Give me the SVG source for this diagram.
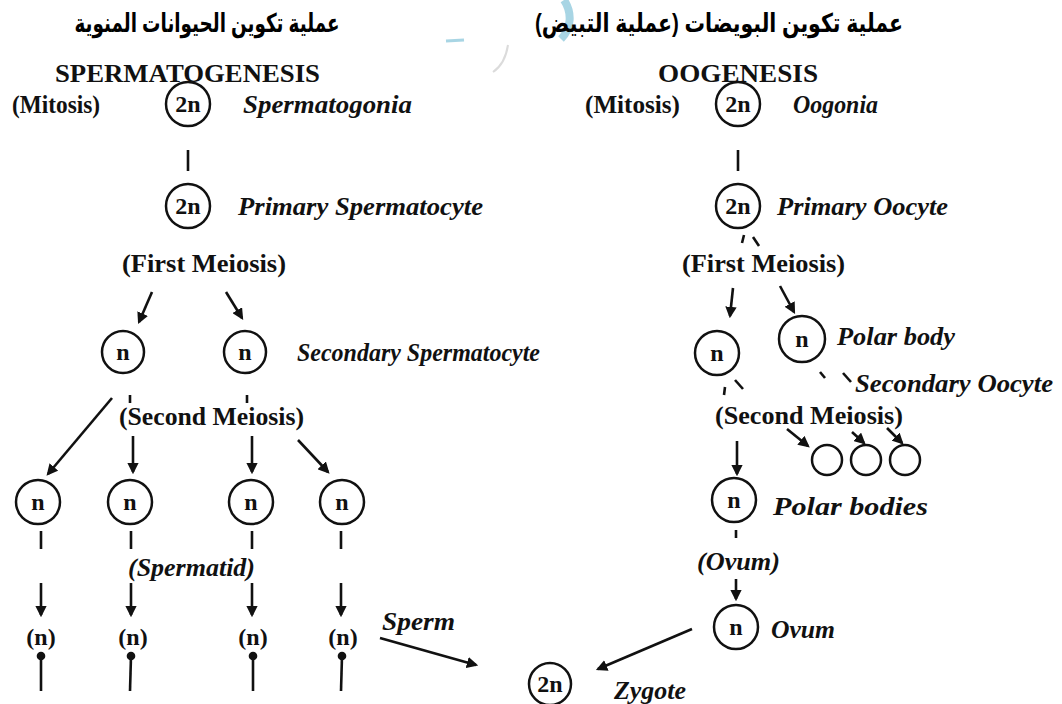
<svg xmlns="http://www.w3.org/2000/svg" width="1062" height="704" viewBox="0 0 1062 704">
<style>
.ar{font-family:"Liberation Sans","DejaVu Sans",sans-serif;font-weight:bold;font-size:26px;fill:#000}
.hd{font-family:"Liberation Serif",serif;font-weight:bold;font-size:25px;fill:#111}
.lb{font-family:"Liberation Serif",serif;font-weight:bold;font-size:25px;fill:#111}
.it{font-family:"Liberation Serif",serif;font-weight:bold;font-style:italic;font-size:25px;fill:#111}
.cl{font-family:"Liberation Serif",serif;font-weight:bold;font-size:24px;fill:#111;text-anchor:middle}
.c{fill:none;stroke:#111;stroke-width:2.5}
.ln{fill:none;stroke:#111;stroke-width:2.6}
.ar2{fill:none;stroke:#111;stroke-width:2.6;marker-end:url(#ah)}
</style>
<defs>
<marker id="ah" viewBox="0 0 10 10" refX="8" refY="5" markerWidth="4.4" markerHeight="4.4" orient="auto" markerUnits="strokeWidth"><path d="M0,0 L10,5 L0,10 z" fill="#111"/></marker>
</defs>
<rect width="1062" height="704" fill="#fff"/>
<g id="watermark" opacity="0.75">
<path d="M564,0 C572,12 572,28 561,39" fill="none" stroke="#8cc8dc" stroke-width="8"/>
<path d="M446,41 L464,40" fill="none" stroke="#8cc8dc" stroke-width="3"/>
<path d="M508,45 C506,58 502,66 493,72" fill="none" stroke="#cfcfcf" stroke-width="2"/>
</g>
<g id="titles">
<text class="ar" x="207" y="32" text-anchor="middle" textLength="265" lengthAdjust="spacingAndGlyphs">عملية تكوين الحيوانات المنوية</text>
<text class="ar" x="719" y="32" text-anchor="middle" textLength="368" lengthAdjust="spacingAndGlyphs">عملية تكوين البويضات (عملية التبيض)</text>
<text class="hd" x="55" y="82" textLength="265" lengthAdjust="spacingAndGlyphs">SPERMATOGENESIS</text>
<text class="hd" x="658" y="82" textLength="160" lengthAdjust="spacingAndGlyphs">OOGENESIS</text>
</g>
<g id="connectors">
<line class="ln" x1="188" y1="150" x2="188" y2="171"/>
<line class="ar2" x1="152" y1="292" x2="139" y2="322"/>
<line class="ar2" x1="226" y1="292" x2="242" y2="318"/>
<line class="ln" x1="130" y1="395" x2="130" y2="403"/>
<line class="ln" x1="247" y1="395" x2="247" y2="403"/>
<line class="ar2" x1="112" y1="398" x2="48" y2="474"/>
<line class="ar2" x1="133" y1="436" x2="133" y2="472"/>
<line class="ar2" x1="252" y1="436" x2="252" y2="472"/>
<line class="ar2" x1="298" y1="440" x2="328" y2="472"/>
<line class="ln" x1="41" y1="531" x2="41" y2="549"/>
<line class="ln" x1="131" y1="531" x2="131" y2="549"/>
<line class="ln" x1="252" y1="531" x2="252" y2="549"/>
<line class="ln" x1="341" y1="531" x2="341" y2="549"/>
<line class="ar2" x1="41" y1="583" x2="41" y2="615"/>
<line class="ar2" x1="131" y1="583" x2="131" y2="615"/>
<line class="ar2" x1="252" y1="583" x2="252" y2="615"/>
<line class="ar2" x1="341" y1="583" x2="341" y2="615"/>
<line class="ar2" x1="380" y1="638" x2="476" y2="665"/>
<line class="ln" x1="738" y1="150" x2="738" y2="171"/>
<line class="ln" x1="744" y1="235" x2="742" y2="243"/>
<line class="ln" x1="753" y1="237" x2="759" y2="246"/>
<line class="ar2" x1="733" y1="288" x2="730" y2="316"/>
<line class="ar2" x1="780" y1="286" x2="794" y2="312"/>
<line class="ln" x1="725" y1="387" x2="724" y2="395"/>
<line class="ln" x1="735" y1="380" x2="743" y2="389"/>
<line class="ln" x1="820" y1="372" x2="825" y2="378"/>
<line class="ln" x1="843" y1="373" x2="851" y2="382"/>
<line class="ar2" x1="787" y1="429" x2="808" y2="446"/>
<line class="ar2" x1="852" y1="432" x2="864" y2="443"/>
<line class="ar2" x1="887" y1="428" x2="902" y2="443"/>
<line class="ar2" x1="737" y1="441" x2="737" y2="474"/>
<line class="ln" x1="736" y1="530" x2="736" y2="538"/>
<line class="ar2" x1="736" y1="579" x2="736" y2="599"/>
<line class="ar2" x1="692" y1="629" x2="598" y2="669"/>
</g>
<g id="sperm-spermatogonia"><text class="lb" x="12" y="113" textLength="88" lengthAdjust="spacingAndGlyphs">(Mitosis)</text><circle class="c" cx="188" cy="104" r="22"/><text class="cl" x="188" y="112">2n</text><text class="it" x="243" y="113" textLength="169" lengthAdjust="spacingAndGlyphs">Spermatogonia</text></g>
<g id="sperm-primary"><circle class="c" cx="188" cy="206" r="22"/><text class="cl" x="188" y="214">2n</text><text class="it" x="238" y="215" textLength="245" lengthAdjust="spacingAndGlyphs">Primary Spermatocyte</text></g>
<g id="sperm-first-meiosis"><text class="lb" x="122" y="272" textLength="164" lengthAdjust="spacingAndGlyphs">(First Meiosis)</text></g>
<g id="sperm-secondary"><circle class="c" cx="123" cy="352" r="21"/><text class="cl" x="123" y="360">n</text><circle class="c" cx="245" cy="352" r="21"/><text class="cl" x="245" y="360">n</text><text class="it" x="297" y="361" textLength="243" lengthAdjust="spacingAndGlyphs">Secondary Spermatocyte</text></g>
<g id="sperm-second-meiosis"><text class="lb" x="119" y="425" textLength="185" lengthAdjust="spacingAndGlyphs">(Second Meiosis)</text></g>
<g id="spermatids"><circle class="c" cx="38" cy="502" r="22"/><text class="cl" x="38" y="510">n</text><circle class="c" cx="130" cy="502" r="22"/><text class="cl" x="130" y="510">n</text><circle class="c" cx="251" cy="502" r="22"/><text class="cl" x="251" y="510">n</text><circle class="c" cx="342" cy="502" r="22"/><text class="cl" x="342" y="510">n</text><text class="it" x="128" y="576" textLength="127" lengthAdjust="spacingAndGlyphs">(Spermatid)</text></g>
<g id="sperms">
<text class="cl" x="41" y="645">(n)</text><text class="cl" x="133" y="645">(n)</text><text class="cl" x="253" y="645">(n)</text><text class="cl" x="343" y="645">(n)</text>
<circle cx="41" cy="656" r="4.3" fill="#111"/><line class="ln" x1="41" y1="656" x2="41" y2="691"/>
<circle cx="131" cy="656" r="4.3" fill="#111"/><line class="ln" x1="131" y1="656" x2="130" y2="691"/>
<circle cx="253" cy="656" r="4.3" fill="#111"/><line class="ln" x1="253" y1="656" x2="253" y2="691"/>
<circle cx="342" cy="656" r="4.3" fill="#111"/><line class="ln" x1="342" y1="656" x2="341" y2="691"/>
<text class="it" x="382" y="630" textLength="73" lengthAdjust="spacingAndGlyphs">Sperm</text>
</g>
<g id="zygote"><circle class="c" cx="550" cy="684" r="21"/><text class="cl" x="550" y="692">2n</text><text class="it" x="614" y="699" textLength="72" lengthAdjust="spacingAndGlyphs">Zygote</text></g>
<g id="oo-oogonia"><text class="lb" x="585" y="113" textLength="95" lengthAdjust="spacingAndGlyphs">(Mitosis)</text><circle class="c" cx="738" cy="104" r="22"/><text class="cl" x="738" y="112">2n</text><text class="it" x="793" y="113" textLength="85" lengthAdjust="spacingAndGlyphs">Oogonia</text></g>
<g id="oo-primary"><circle class="c" cx="738" cy="206" r="22"/><text class="cl" x="738" y="214">2n</text><text class="it" x="777" y="215" textLength="171" lengthAdjust="spacingAndGlyphs">Primary Oocyte</text></g>
<g id="oo-first-meiosis"><text class="lb" x="682" y="272" textLength="163" lengthAdjust="spacingAndGlyphs">(First Meiosis)</text></g>
<g id="oo-secondary"><circle class="c" cx="717" cy="353" r="22"/><text class="cl" x="717" y="361">n</text><text class="it" x="855" y="392" textLength="198" lengthAdjust="spacingAndGlyphs">Secondary Oocyte</text></g>
<g id="oo-polar-body"><circle class="c" cx="802" cy="339" r="23"/><text class="cl" x="802" y="347">n</text><text class="it" x="837" y="345" textLength="118" lengthAdjust="spacingAndGlyphs">Polar body</text></g>
<g id="oo-second-meiosis"><text class="lb" x="715" y="424" textLength="188" lengthAdjust="spacingAndGlyphs">(Second Meiosis)</text></g>
<g id="oo-polar-bodies"><circle class="c" cx="827" cy="460" r="15"/><circle class="c" cx="866" cy="460" r="15"/><circle class="c" cx="905" cy="460" r="15"/><text class="it" x="773" y="515" textLength="155" lengthAdjust="spacingAndGlyphs">Polar bodies</text></g>
<g id="oo-ootid"><circle class="c" cx="734" cy="500" r="22"/><text class="cl" x="734" y="508">n</text><text class="it" x="697" y="570" textLength="83" lengthAdjust="spacingAndGlyphs">(Ovum)</text></g>
<g id="oo-ovum"><circle class="c" cx="736" cy="627" r="22"/><text class="cl" x="736" y="635">n</text><text class="it" x="771" y="638" textLength="64" lengthAdjust="spacingAndGlyphs">Ovum</text></g>
</svg>
